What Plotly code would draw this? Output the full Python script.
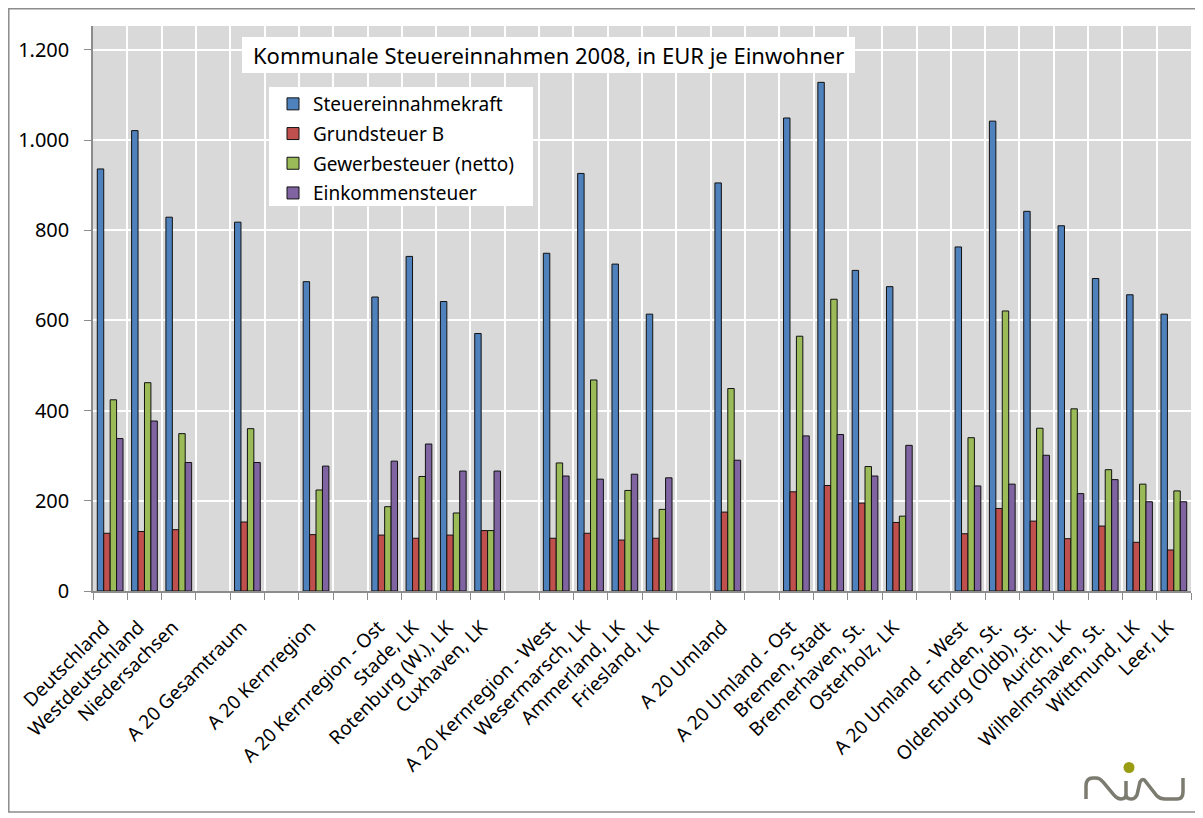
import plotly.graph_objects as go

# ---------------- data ----------------
categories = [
    "Deutschland", "Westdeutschland", "Niedersachsen", " ",
    "A 20 Gesamtraum", "  ",
    "A 20 Kernregion", "   ",
    "A 20 Kernregion - Ost", "Stade, LK", "Rotenburg (W.), LK", "Cuxhaven, LK", "    ",
    "A 20 Kernregion - West", "Wesermarsch, LK", "Ammerland, LK", "Friesland, LK", "     ",
    "A 20 Umland", "      ",
    "A 20 Umland - Ost", "Bremen, Stadt", "Bremerhaven, St.", "Osterholz, LK", "       ",
    "A 20 Umland  - West", "Emden, St.", "Oldenburg (Oldb), St.", "Aurich, LK",
    "Wilhelmshaven, St.", "Wittmund, LK", "Leer, LK",
]
N = None
steuereinnahmekraft = [936, 1021, 829, N, 818, N, 686, N, 652, 742, 642, 571, N,
                       749, 926, 725, 614, N, 905, N, 1049, 1128, 711, 675, N,
                       763, 1042, 842, 810, 693, 657, 614]
grundsteuer_b = [128, 132, 136, N, 153, N, 125, N, 124, 117, 124, 134, N,
                 117, 128, 113, 117, N, 175, N, 220, 234, 195, 152, N,
                 127, 183, 155, 116, 144, 108, 91]
gewerbesteuer = [424, 462, 349, N, 360, N, 224, N, 187, 254, 173, 134, N,
                 284, 468, 223, 181, N, 449, N, 565, 647, 276, 166, N,
                 340, 621, 361, 404, 269, 237, 222]
einkommensteuer = [338, 377, 285, N, 285, N, 277, N, 288, 326, 266, 266, N,
                   255, 248, 259, 251, N, 290, N, 344, 347, 255, 323, N,
                   233, 237, 301, 216, 247, 198, 198]

series_names = ["Steuereinnahmekraft", "Grundsteuer B", "Gewerbesteuer (netto)", "Einkommensteuer"]
series_values = [steuereinnahmekraft, grundsteuer_b, gewerbesteuer, einkommensteuer]
series_colors = ["#4F81BD", "#C0504D", "#9BBB59", "#8064A2"]

title_text = "Kommunale Steuereinnahmen 2008, in EUR je Einwohner"

# ---------------- layout helpers ----------------
# The page body has an 8px default margin; positions below are given in
# screen pixels and converted to figure/paper coordinates.
OFF = 8
W, H = 1203 - OFF, 818 - OFF
PL, PT, PR, PB = 93, 26, 1191, 591          # plot area in screen pixels
ML, MT = PL - OFF, PT - OFF
MR, MB = W - (PR - OFF), H - (PB - OFF)
PW, PH = W - ML - MR, H - MT - MB


def px(x):
    return (x - OFF - ML) / PW


def py(y):
    return (PB - y) / PH


def pt(x, y):
    return f"{px(x):.5f},{py(y):.5f}"


FONT = "Noto Sans"

fig = go.Figure()
for name, vals, col in zip(series_names, series_values, series_colors):
    fig.add_trace(go.Bar(
        x=categories, y=vals, name=name, legendgroup=name,
        marker=dict(color=col, line=dict(color="#111111", width=1)),
    ))

shapes = []
# outer frame
shapes.append(dict(type="rect", xref="paper", yref="paper",
                   x0=px(8.8), x1=px(1197), y0=py(812), y1=py(8.8),
                   line=dict(color="#8c8c8c", width=1.5), layer="below"))
# title box and legend box
shapes.append(dict(type="rect", xref="paper", yref="paper",
                   x0=px(242), x1=px(855), y0=py(73), y1=py(37),
                   fillcolor="white", line=dict(width=0), layer="above"))
shapes.append(dict(type="rect", xref="paper", yref="paper",
                   x0=px(269), x1=px(533), y0=py(206), y1=py(87),
                   fillcolor="white", line=dict(width=0), layer="above"))
# logo (niw)
logo_path = (
    f"M {pt(1086,799)} L {pt(1086,786)} Q {pt(1086,778)} {pt(1093,778)} L {pt(1096,778)} "
    f"Q {pt(1100,778)} {pt(1103,782)} L {pt(1114,795)} Q {pt(1117,799)} {pt(1121,799)} "
    f"Q {pt(1126,799)} {pt(1126,794)} L {pt(1126,781)} "
    f"M {pt(1126,794)} Q {pt(1126,799)} {pt(1131,799)} Q {pt(1135,799)} {pt(1137,795)} "
    f"L {pt(1140,782)} Q {pt(1143,777)} {pt(1146,782)} L {pt(1157,796)} "
    f"Q {pt(1160,799)} {pt(1165,799)} L {pt(1177,799)} Q {pt(1183,799)} {pt(1183,792)} L {pt(1183,778)}"
)
shapes.append(dict(type="path", xref="paper", yref="paper", path=logo_path,
                   line=dict(color="#7b7b6f", width=3.5)))
shapes.append(dict(type="circle", xref="paper", yref="paper",
                   x0=px(1123.5), x1=px(1134.5), y0=py(773), y1=py(762),
                   fillcolor="#9a9c12", line=dict(width=0)))

fig.update_layout(
    width=W, height=H,
    margin=dict(l=ML, r=MR, t=MT, b=MB, autoexpand=False),
    paper_bgcolor="white",
    plot_bgcolor="#d9d9d9",
    separators=",.",
    font=dict(family=FONT, size=19, color="black"),
    barmode="group", bargap=0.25, bargroupgap=0,
    showlegend=True,
    legend=dict(
        x=px(273), y=py(85), xanchor="left", yanchor="top",
        bgcolor="rgba(0,0,0,0)", borderwidth=0,
        font=dict(family=FONT, size=19, color="black"),
        tracegroupgap=2, itemwidth=30,
    ),
    shapes=shapes,
    annotations=[dict(
        text=title_text, xref="paper", yref="paper",
        x=px(548.5), y=py(55), xanchor="center", yanchor="middle",
        showarrow=False,
        font=dict(family=FONT, size=22, color="black"),
    )],
)

fig.update_xaxes(
    type="category", categoryorder="array", categoryarray=categories,
    tickson="boundaries", ticks="outside", ticklen=7, tickcolor="#8c8c8c",
    showgrid=True, gridcolor="white", gridwidth=1.5,
    showline=True, linecolor="#8c8c8c", linewidth=1.5,
    tickangle=-45, tickfont=dict(family=FONT, size=19, color="black"),
    ticklabelstandoff=16, ticklabelshift=-6,
)
fig.update_yaxes(
    range=[0, 1253], dtick=200, tick0=0, tickformat=",d",
    ticks="outside", ticklen=7, tickcolor="#8c8c8c",
    showgrid=True, gridcolor="white", gridwidth=1.5,
    showline=True, linecolor="#8c8c8c", linewidth=1.5,
    zeroline=False,
    tickfont=dict(family=FONT, size=20, color="black"),
    ticklabelstandoff=11,
)

fig.write_html("out.html")
